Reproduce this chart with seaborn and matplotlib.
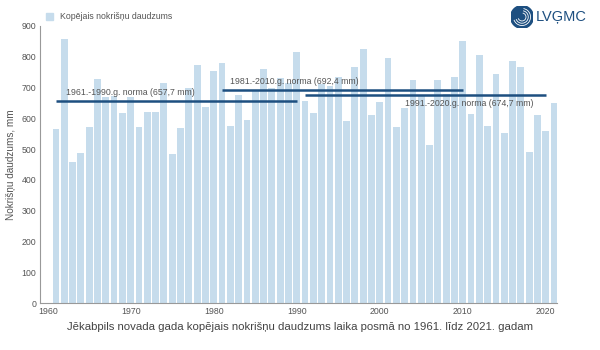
import numpy as np
import pandas as pd
import matplotlib
matplotlib.use('Agg')
import matplotlib.pyplot as plt
import seaborn as sns
from matplotlib.patches import Circle, Arc

# Dati
years = list(range(1961, 2022))
precip = [565, 858, 457, 486, 573, 727, 668, 674, 617, 669,
          573, 619, 619, 714, 485, 567, 700, 772, 638, 755,
          780, 576, 676, 595, 690, 759, 700, 731, 714, 814,
          656, 618, 710, 705, 733, 591, 767, 825, 611, 654,
          795, 571, 632, 724, 675, 512, 724, 680, 733, 852,
          614, 806, 575, 743, 553, 787, 768, 490, 611, 559,
          649]
norm_periods = [(1961, 1990), (1981, 2010), (1991, 2020)]
norm_values = [657.7, 692.4, 674.7]
norm_labels = ['1961.-1990.g. norma (657,7 mm)',
               '1981.-2010.g. norma (692,4 mm)',
               '1991.-2020.g. norma (674,7 mm)']
y_ticks = list(range(0, 1000, 100))

df = pd.DataFrame({'Gads': years, 'Nokrisni': precip})

sns.set_style('white')
plt.rcParams['font.family'] = ['Liberation Sans', 'DejaVu Sans']

bar_color = '#c6dcec'
line_color = '#1d4f80'
text_color = '#555555'

fig = plt.figure(figsize=(6, 3.5), dpi=100)
ax = fig.add_axes([0.067, 0.134, 0.862, 0.792])

sns.barplot(data=df, x='Gads', y='Nokrisni', native_scale=True, width=0.82,
            color=bar_color, saturation=1, edgecolor='none', ax=ax)

# normas linijas
for (a, b), v in zip(norm_periods, norm_values):
    ax.plot([a, b], [v, v], color=line_color, lw=1.8, solid_capstyle='butt')

ax.text(1962.2, norm_values[0] + 12, norm_labels[0], fontsize=6.3, color=text_color, va='bottom')
ax.text(1982.0, norm_values[1] + 12, norm_labels[1], fontsize=6.3, color=text_color, va='bottom')
ax.text(2003.0, norm_values[2] - 12, norm_labels[2], fontsize=6.3, color=text_color, va='top')

ax.set_xlim(1959.1, 2021.4)
ax.set_ylim(0, 900)
ax.set_yticks(y_ticks)
ax.set_xticks(list(range(1960, 2021, 10)))
ax.tick_params(axis='both', labelsize=6.3, colors=text_color, length=0, pad=3)
ax.set_xlabel('')
ax.set_ylabel('Nokrišņu daudzums, mm', fontsize=7.2, color=text_color, labelpad=4)
for s in ['top', 'right']:
    ax.spines[s].set_visible(False)
for s in ['left', 'bottom']:
    ax.spines[s].set_color('#999999')
    ax.spines[s].set_linewidth(0.8)

# legenda
fig.patches.append(plt.Rectangle((0.077, 0.944), 0.011, 0.019, transform=fig.transFigure,
                                 color=bar_color, figure=fig))
fig.text(0.1, 0.953, 'Kopējais nokrišņu daudzums', fontsize=6.3, color=text_color, va='center')

# virsraksts apaksa
fig.text(0.5, 0.065, 'Jēkabpils novada gada kopējais nokrišņu daudzums laika posmā no 1961. līdz 2021. gadam',
         fontsize=8.2, color='#444444', ha='center', va='center')

# logo
lax = fig.add_axes([0.851, 0.919, 0.038, 0.065])
lax.set_xlim(-1, 1)
lax.set_ylim(-1, 1)
lax.set_aspect('equal')
lax.axis('off')
lax.add_patch(Circle((0, 0), 1, color='#1d4f80'))
for r in [0.75, 0.55, 0.35]:
    lax.add_patch(Arc((0, 0), 2 * r, 2 * r, theta1=200, theta2=80, color='white', lw=0.6))
fig.text(0.893, 0.951, 'LVĢMC', fontsize=10.5, color='#1d4f80', va='center', ha='left')

fig.savefig('out.png', dpi=100)
